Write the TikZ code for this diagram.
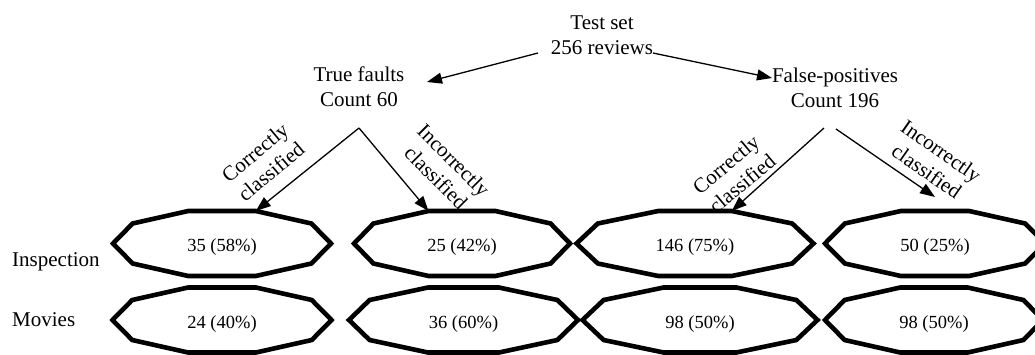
\documentclass[tikz,border=0pt]{standalone}
\usepackage{fontspec}
\setmainfont{Liberation Serif}
\usetikzlibrary{arrows.meta}

\newcommand{\boite}[5]{\draw[bord] (#2-#4, #3) -- (#2-0.82*#4, #3-20) -- (#2-0.31*#4, #3-32.5)
  -- (#2+0.31*#4, #3-32.5) -- (#2+0.82*#4, #3-20) -- (#2+#4, #3) -- (#2+0.82*#4, #3+20)
  -- (#2+0.31*#4, #3+32.5) -- (#2-0.31*#4, #3+32.5) -- (#2-0.82*#4, #3+20) -- cycle;
\node[valeur] (#1) at (#2, #3+4) {#5};
\coordinate (#1-g) at (#2-0.31*#4, #3-32.5);
\coordinate (#1-d) at (#2+0.31*#4, #3-32.5);
\coordinate (#1-h) at (#2, #3-32.5);}
\tikzset { fleche/.style={-{Triangle[length=15pt,width=11pt]}, line width=1.3pt},
  bord/.style={line width=4.6pt},
  etiquette/.style={align=center, inner sep=0pt, font=\fontsize{21}{25}\selectfont},
  valeur/.style={inner sep=0pt, font=\fontsize{18.5}{22}\selectfont} }

\begin{document}
\begin{tikzpicture}[x=1pt, y=-1pt]
  \useasboundingbox (0, 0) rectangle (1035, 354);
	% texte du haut
	\node[etiquette] (ts) at (602, 35) {Test set\\256 reviews};
	\node[etiquette] (tf) at (359, 87) {True faults\\Count 60};
	\node[etiquette] (fp) at (835, 88) {False-positives\\Count 196};
	\node[etiquette, anchor=west] (insp) at (12, 262) {Inspection};
	\node[etiquette, anchor=west] (mov) at (12, 320) {Movies};
	% les boites
	\boite{b11}{222}{243.5}{109}{35 (58\%)};
	\boite{b12}{462}{243.5}{108}{25 (42\%)};
	\boite{b13}{695}{243.5}{118.5}{146 (75\%)};
	\boite{b14}{935}{243.5}{110}{50 (25\%)};
	\boite{b21}{222}{320}{109.5}{24 (40\%)};
	\boite{b22}{463.5}{320}{114.5}{36 (60\%)};
	\boite{b23}{700}{320}{117.5}{98 (50\%)};
	\boite{b24}{934}{320}{109}{98 (50\%)};
	% fleches
	\draw[fleche] ([shift={(-64, 18)}]ts.center) -- ([shift={(68, -5)}]tf.center);
	\draw[fleche] ([shift={(51, 18)}]ts.center) -- ([shift={(-63, -10)}]fp.center);
	\draw[fleche] ([shift={(0, 41)}]tf.center) -- (b11-d);
	\draw[fleche] ([shift={(0, 41)}]tf.center) -- (b12-g);
	\draw[fleche] ([shift={(-11, 40)}]fp.center) -- (b13-d);
	\draw[fleche] ([shift={(1, 41)}]fp.center) -- ([shift={(0, -14)}]b14-h);
	\node[etiquette, rotate=40] (lc1) at (263, 162) {Correctly\\classified};
	\node[etiquette, rotate=-45] (li1) at (445, 169) {Incorrectly\\classified};
	\node[etiquette, rotate=40] (lc2) at (734, 174) {Correctly\\classified};
	\node[etiquette, rotate=-35] (li2) at (934, 161) {Incorrectly\\classified};
\end{tikzpicture}
\end{document}
